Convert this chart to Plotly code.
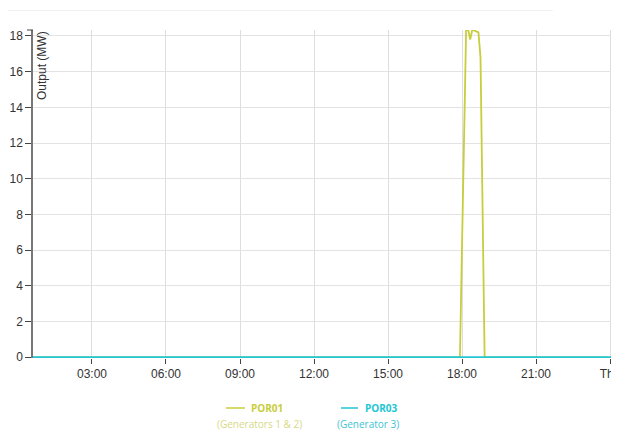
import plotly.graph_objects as go

# ---- data ----
day = "2024-01-03"  # a Wednesday
por01_times = ["00:00", "17:55", "18:00", "18:05", "18:10", "18:15", "18:20", "18:25",
               "18:30", "18:35", "18:40", "18:45", "18:50", "18:55", "23:55"]
por01_values = [0, 0, 6.2, 12.3, 18.3, 18.35, 17.8, 18.35, 18.3, 18.25, 18.2, 16.8, 8.0, 0, 0]
por03_times = ["2024-01-03 00:00", "2024-01-04 00:30"]
por03_values = [0, 0]

series_names = ["POR01", "POR03"]
series_subtitles = ["(Generators 1 & 2)", "(Generator 3)"]
series_colors = ["#c8cd3c", "#22c6d4"]
series_sub_colors = ["#d6d985", "#3fc3d3"]

x_tick_vals = ["2024-01-03 03:00", "2024-01-03 06:00", "2024-01-03 09:00", "2024-01-03 12:00",
               "2024-01-03 15:00", "2024-01-03 18:00", "2024-01-03 21:00", "2024-01-04 00:00"]
x_tick_text = ["03:00", "06:00", "09:00", "12:00", "15:00", "18:00", "21:00", "Thu"]
y_tick_vals = [0, 2, 4, 6, 8, 10, 12, 14, 16, 18]
y_title = "Output (MW)"

# ---- layout geometry (screen pixels; page body has an 8px margin) ----
OFF = 8
SCREEN_W, SCREEN_H = 619, 430
PL, PR, PT, PB = 33, 619, 30, 358   # plot area on screen
W, H = SCREEN_W - OFF, SCREEN_H - OFF
L, T = PL - OFF, PT - OFF
R = W - (PR - OFF)
B = H - (PB - OFF)
PW, PH = PR - PL, PB - PT


def px(x):
    return (x - PL) / PW


def py(y):
    return (PB - y) / PH


fig = go.Figure()
fig.add_trace(go.Scatter(
    x=[f"{day} {t}" for t in por01_times], y=por01_values, mode="lines",
    line=dict(color=series_colors[0], width=1.8), name=series_names[0], hoverinfo="skip"))
fig.add_trace(go.Scatter(
    x=por03_times, y=por03_values, mode="lines",
    line=dict(color=series_colors[1], width=2), name=series_names[1], hoverinfo="skip"))

axis_font = dict(family="Liberation Sans, Arial, sans-serif", size=12, color="#333333")

fig.update_layout(
    width=W, height=H,
    margin=dict(l=L, r=R, t=T, b=B, pad=0),
    paper_bgcolor="white", plot_bgcolor="white",
    showlegend=False,
    xaxis=dict(
        type="date",
        range=["2024-01-03 00:36:30", "2024-01-04 00:21:54"],
        tickvals=x_tick_vals, ticktext=x_tick_text,
        showgrid=True, gridcolor="#dedede", gridwidth=1,
        ticks="outside", ticklen=5, tickcolor="#444444",
        showline=False,
        tickfont=axis_font, zeroline=False, fixedrange=True,
        ticklabeloverflow="allow",
        layer="below traces",
    ),
    yaxis=dict(
        range=[-0.04, 18.33],
        tickvals=y_tick_vals,
        showgrid=True, gridcolor="#e3e3e3", gridwidth=1,
        ticks="outside", ticklen=6, tickcolor="#444444",
        showline=True, linecolor="#777777", linewidth=1.5,
        tickfont=axis_font, zeroline=False, fixedrange=True,
        layer="below traces",
    ),
)

shapes = []
# faint top rule
shapes.append(dict(type="line", xref="paper", yref="paper",
                   x0=px(0), x1=px(553), y0=py(10.5), y1=py(10.5),
                   line=dict(color="#f1f1f1", width=1)))
# outer tick at the top of the y axis
shapes.append(dict(type="line", xref="paper", yref="paper",
                   x0=px(27), x1=px(33), y0=1, y1=1,
                   line=dict(color="#444444", width=1)))

annotations = []
annotations.append(dict(text=y_title, xref="paper", yref="paper", x=px(42), y=py(66),
                        xanchor="center", yanchor="middle", textangle=-90, showarrow=False,
                        font=dict(family="Liberation Sans, Arial, sans-serif", size=12,
                                  color="#333333")))

# custom legend
legend_items = [
    dict(line=(226, 245), name_x=266.5, sub_x=259),
    dict(line=(341, 358), name_x=381.5, sub_x=368),
]
for i, item in enumerate(legend_items):
    shapes.append(dict(type="line", xref="paper", yref="paper",
                       x0=px(item["line"][0]), x1=px(item["line"][1]),
                       y0=py(408), y1=py(408),
                       line=dict(color=series_colors[i], width=1.5)))
    annotations.append(dict(text=f"<b>{series_names[i]}</b>", xref="paper", yref="paper",
                            x=px(item["name_x"]), y=py(408), xanchor="center",
                            yanchor="middle", showarrow=False,
                            font=dict(family="Open Sans, sans-serif", size=10,
                                      color=series_colors[i])))
    annotations.append(dict(text=series_subtitles[i], xref="paper", yref="paper",
                            x=px(item["sub_x"]), y=py(424), xanchor="center",
                            yanchor="middle", showarrow=False,
                            font=dict(family="Open Sans, sans-serif", size=10,
                                      color=series_sub_colors[i])))

fig.update_layout(shapes=shapes, annotations=annotations)

fig.write_html("out.html", config={"displayModeBar": False})
